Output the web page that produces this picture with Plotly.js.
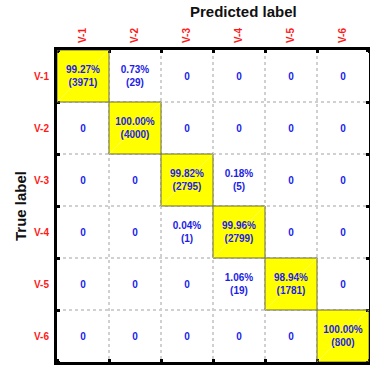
<!DOCTYPE html>
<html>
<head>
<meta charset="utf-8">
<script src="https://cdn.plot.ly/plotly-3.0.1.min.js"></script>
<style>
  html, body { margin: 0; padding: 0; background: #fff; }
  #chart { width: 370px; height: 367px; }
</style>
</head>
<body>
<div id="chart"></div>
<script>
// Class labels (shared by true and predicted axes)
const classLabels = ['V-1', 'V-2', 'V-3', 'V-4', 'V-5', 'V-6'];

// Sample counts: rows = true label, columns = predicted label
const counts = [
  [3971,   29,    0,    0,    0,   0],
  [   0, 4000,    0,    0,    0,   0],
  [   0,    0, 2795,    5,    0,   0],
  [   0,    0,    1, 2799,    0,   0],
  [   0,    0,    0,   19, 1781,   0],
  [   0,    0,    0,    0,    0, 800]
];

// Row-normalised percentages shown in each cell
const percents = [
  [99.27,   0.73,  0,     0,     0,     0],
  [0,     100.00,  0,     0,     0,     0],
  [0,       0,    99.82,  0.18,  0,     0],
  [0,       0,     0.04, 99.96,  0,     0],
  [0,       0,     0,     1.06, 98.94,  0],
  [0,       0,     0,     0,     0,   100.00]
];

const idx = classLabels.map((_, i) => i);

// Cell captions: "pct%<br>(count)" or "0" for empty cells
const cellText = counts.map((row, r) => row.map((c, k) =>
  c === 0 ? '0' : percents[r][k].toFixed(2) + '%<br>(' + c + ')'
));

const font = 'Liberation Sans, Arial, Helvetica, sans-serif';

const trace = {
  type: 'heatmap',
  x: idx,
  y: idx,
  z: percents,
  zmin: 0,
  zmax: 100,
  colorscale: [
    [0, 'rgba(255,255,255,0)'],
    [0.5, 'rgba(255,255,255,0)'],
    [0.5, '#ffff00'],
    [1, '#ffff00']
  ],
  showscale: false,
  text: cellText,
  texttemplate: '%{text}',
  textfont: { family: font, size: 10, color: '#1c1ce8', weight: 'bold' },
  hoverinfo: 'skip'
};

// Outline and faint diagonal on the highlighted (correct) cells
const shapes = [];
idx.forEach(i => {
  if (percents[i][i] > 50) {
    shapes.push({
      type: 'rect', xref: 'x', yref: 'y', layer: 'above',
      x0: i - 0.5, x1: i + 0.5, y0: i - 0.5, y1: i + 0.5,
      line: { color: '#6b6b45', width: 1 }
    });
    shapes.push({
      type: 'line', xref: 'x', yref: 'y', layer: 'above',
      x0: i + 0.5, y0: i - 0.5, x1: i - 0.5, y1: i + 0.5,
      line: { color: 'rgba(255,255,255,0.35)', width: 1 }
    });
  }
});

const axisCommon = {
  tickmode: 'array',
  tickvals: idx,
  ticktext: classLabels,
  ticks: '',
  showgrid: false,
  zeroline: false,
  showline: true,
  linecolor: '#000',
  linewidth: 3,
  mirror: 'ticks',
  tickfont: { family: font, size: 10, color: '#ff1a1a', weight: 'bold' },
  range: [-0.5, 5.5],
  fixedrange: true,
  minor: {
    tick0: -0.5,
    dtick: 1,
    ticks: 'inside',
    ticklen: 3,
    tickwidth: 3,
    tickcolor: '#000',
    showgrid: true,
    gridcolor: '#d0d0d0',
    gridwidth: 2,
    griddash: 'dot'
  }
};

const layout = {
  width: 370,
  height: 367,
  margin: { l: 57, r: 1, t: 50, b: 5 },
  paper_bgcolor: '#fff',
  plot_bgcolor: '#fff',
  showlegend: false,
  title: {
    text: 'Predicted label',
    x: 221 / 370, xref: 'paper', xanchor: 'center',
    y: 1 - 12 / 367, yanchor: 'middle',
    font: { family: font, size: 15, color: '#111', weight: 'bold' }
  },
  xaxis: Object.assign({}, axisCommon, {
    side: 'top',
    tickangle: -90,
    ticklabelstandoff: 2
  }),
  yaxis: Object.assign({}, axisCommon, {
    range: [5.5, -0.5],
    ticklabelstandoff: 3
  }),
  annotations: [{
    text: 'True label',
    xref: 'paper', yref: 'paper',
    x: (20 - 57) / 312, y: 0.5,
    xanchor: 'center', yanchor: 'middle',
    textangle: -90,
    showarrow: false,
    font: { family: font, size: 15, color: '#111', weight: 'bold' }
  }],
  shapes: shapes
};

Plotly.newPlot('chart', [trace], layout, { displayModeBar: false, staticPlot: true });
</script>
</body>
</html>
